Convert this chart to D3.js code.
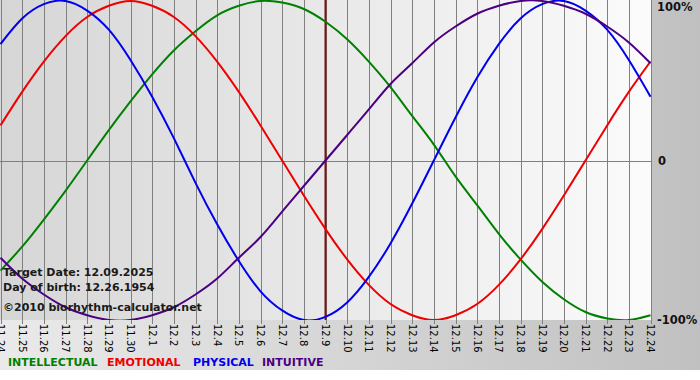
<!DOCTYPE html>
<html>
<head>
<meta charset="utf-8">
<script src="https://cdn.jsdelivr.net/npm/d3@7"></script>
<style>
    body { margin: 0; background: #fff; }
    #chart { width: 700px; height: 380px; }
    text { font-family: "DejaVu Sans", Verdana, sans-serif; }
</style>
</head>
<body>
<div id="chart"></div>
<script>
const days = ["11.24", "11.25", "11.26", "11.27", "11.28", "11.29", "11.30",
    "12.1", "12.2", "12.3", "12.4", "12.5", "12.6", "12.7", "12.8", "12.9", "12.10",
    "12.11", "12.12", "12.13", "12.14", "12.15", "12.16", "12.17", "12.18", "12.19",
    "12.20", "12.21", "12.22", "12.23", "12.24"];

const physical = [0.73, 0.89, 0.98, 1.00, 0.94, 0.82, 0.63, 0.40, 0.14, -0.14, -0.40,
    -0.63, -0.82, -0.94, -1.00, -0.98, -0.89, -0.73, -0.52, -0.27, 0.00, 0.27, 0.52,
    0.73, 0.89, 0.98, 1.00, 0.94, 0.82, 0.63, 0.40];

const emotional = [0.22, 0.43, 0.62, 0.78, 0.90, 0.97, 1.00, 0.97, 0.90, 0.78, 0.62,
    0.43, 0.22, 0.00, -0.22, -0.43, -0.62, -0.78, -0.90, -0.97, -1.00, -0.97, -0.90,
    -0.78, -0.62, -0.43, -0.22, 0.00, 0.22, 0.43, 0.62];

const intellectual = [-0.69, -0.54, -0.37, -0.19, 0.00, 0.19, 0.37, 0.54, 0.69, 0.81,
    0.91, 0.97, 1.00, 0.99, 0.95, 0.87, 0.76, 0.62, 0.46, 0.28, 0.10, -0.10, -0.28,
    -0.46, -0.62, -0.76, -0.87, -0.95, -0.99, -1.00, -0.97];

const intuitive = [-0.61, -0.74, -0.84, -0.92, -0.97, -1.00, -1.00, -0.97, -0.92, -0.84,
    -0.74, -0.61, -0.48, -0.32, -0.16, 0.00, 0.16, 0.32, 0.48, 0.61, 0.74, 0.84, 0.92,
    0.97, 1.00, 1.00, 0.97, 0.92, 0.84, 0.74, 0.61];

const targetDay = "12.9";
const yTicks = [1, 0, -1];
const yTickLabels = ["100%", "0", "-100%"];
const infoLines = ["Target Date: 12.09.2025", "Day of birth: 12.26.1954", "\u00a92010 biorhythm-calculator.net"];

const series = [
    { name: "INTELLECTUAL", values: intellectual, color: "#008000" },
    { name: "EMOTIONAL", values: emotional, color: "#ee0000" },
    { name: "PHYSICAL", values: physical, color: "#0000ee" },
    { name: "INTUITIVE", values: intuitive, color: "#4b0082" }
];

class BiorhythmChart {

    constructor(opts) {
        this.element = opts.element;
        this.width = 700;
        this.height = 380;
        this.plotW = 651;
        this.plotH = 320;
    }

    draw() {
        this.svg = d3.select(this.element).append("svg")
            .attr("width", this.width)
            .attr("height", this.height);

        this.addBackground();
        this.createScales();
        this.addGrid();
        this.drawLines();
        this.addLabels();
    }

    addBackground() {
        const defs = this.svg.append("defs");

        const outer = defs.append("linearGradient").attr("id", "outer-grad");
        outer.append("stop").attr("offset", "0%").attr("stop-color", "#eaeaea");
        outer.append("stop").attr("offset", "100%").attr("stop-color", "#c0c0c0");

        const inner = defs.append("linearGradient").attr("id", "inner-grad");
        inner.append("stop").attr("offset", "0%").attr("stop-color", "#d6d6d6");
        inner.append("stop").attr("offset", "100%").attr("stop-color", "#fbfbfb");

        this.svg.append("rect")
            .attr("width", this.width)
            .attr("height", 370)
            .attr("fill", "url(#outer-grad)");

        this.svg.append("rect")
            .attr("width", this.plotW)
            .attr("height", this.plotH)
            .attr("fill", "url(#inner-grad)");
    }

    createScales() {
        this.x_scale = d3.scalePoint()
            .domain(days)
            .range([0.5, 650.5]);

        this.y_scale = d3.scaleLinear()
            .domain([-1, 1])
            .range([320, 1]);
    }

    addGrid() {
        // vertical day lines with little ticks under the plot
        this.svg.append("g")
            .selectAll("line").data(days).enter()
            .append("line")
            .attr("x1", d => Math.round(this.x_scale(d)) + 0.5)
            .attr("x2", d => Math.round(this.x_scale(d)) + 0.5)
            .attr("y1", 0)
            .attr("y2", this.plotH + 4)
            .attr("stroke", "#808080")
            .attr("stroke-width", 1);

        this.svg.append("line")
            .attr("x1", 0)
            .attr("x2", this.plotW + 1)
            .attr("y1", Math.round(this.y_scale(0)) + 0.5)
            .attr("y2", Math.round(this.y_scale(0)) + 0.5)
            .attr("stroke", "#808080");

        this.svg.append("line")
            .attr("x1", this.x_scale(targetDay))
            .attr("x2", this.x_scale(targetDay))
            .attr("y1", 0)
            .attr("y2", this.plotH)
            .attr("stroke", "#7a1010")
            .attr("stroke-width", 2);
    }

    drawLines() {
        const line = d3.line()
            .x((d, i) => this.x_scale(days[i]))
            .y(d => this.y_scale(d))
            .curve(d3.curveNatural);

        this.svg.append("clipPath")
            .attr("id", "plot-clip")
            .append("rect")
            .attr("width", this.plotW)
            .attr("height", this.plotH);

        this.svg.append("g")
            .attr("clip-path", "url(#plot-clip)")
            .selectAll("path").data(series).enter()
            .append("path")
            .attr("d", s => line(s.values))
            .attr("fill", "none")
            .attr("stroke", s => s.color)
            .attr("stroke-width", 2);
    }

    addLabels() {
        // day labels, turned to read downwards
        this.svg.append("g")
            .selectAll("text").data(days).enter()
            .append("text")
            .attr("transform", d => "translate(" + this.x_scale(d) + ",324) rotate(90)")
            .attr("dy", "0.35em")
            .attr("font-family", "Liberation Sans, Arial, sans-serif")
            .attr("font-size", 10)
            .attr("fill", "#000")
            .text(d => d);

        this.svg.append("g")
            .selectAll("text").data(yTicks).enter()
            .append("text")
            .attr("x", (d, i) => i === 1 ? 658 : 657)
            .attr("y", d => Math.min(Math.max(this.y_scale(d) + 4, 11), 326))
            .attr("font-size", 11.5)
            .attr("font-weight", "bold")
            .attr("fill", "#111")
            .text((d, i) => yTickLabels[i]);

        this.svg.append("g")
            .selectAll("text").data(infoLines).enter()
            .append("text")
            .attr("x", 3)
            .attr("y", (d, i) => [276, 291, 311][i])
            .attr("font-size", 11)
            .attr("font-weight", "bold")
            .attr("fill", "#1a1a1a")
            .text(d => d);

        const legendX = [8, 107, 193, 262];
        this.svg.append("g")
            .selectAll("text").data(series).enter()
            .append("text")
            .attr("x", (s, i) => legendX[i])
            .attr("y", 366)
            .attr("font-size", 11)
            .attr("font-weight", "bold")
            .attr("fill", s => s.color)
            .text(s => s.name);
    }
}

const chart = new BiorhythmChart({ element: document.getElementById("chart") });
chart.draw();
</script>
</body>
</html>
